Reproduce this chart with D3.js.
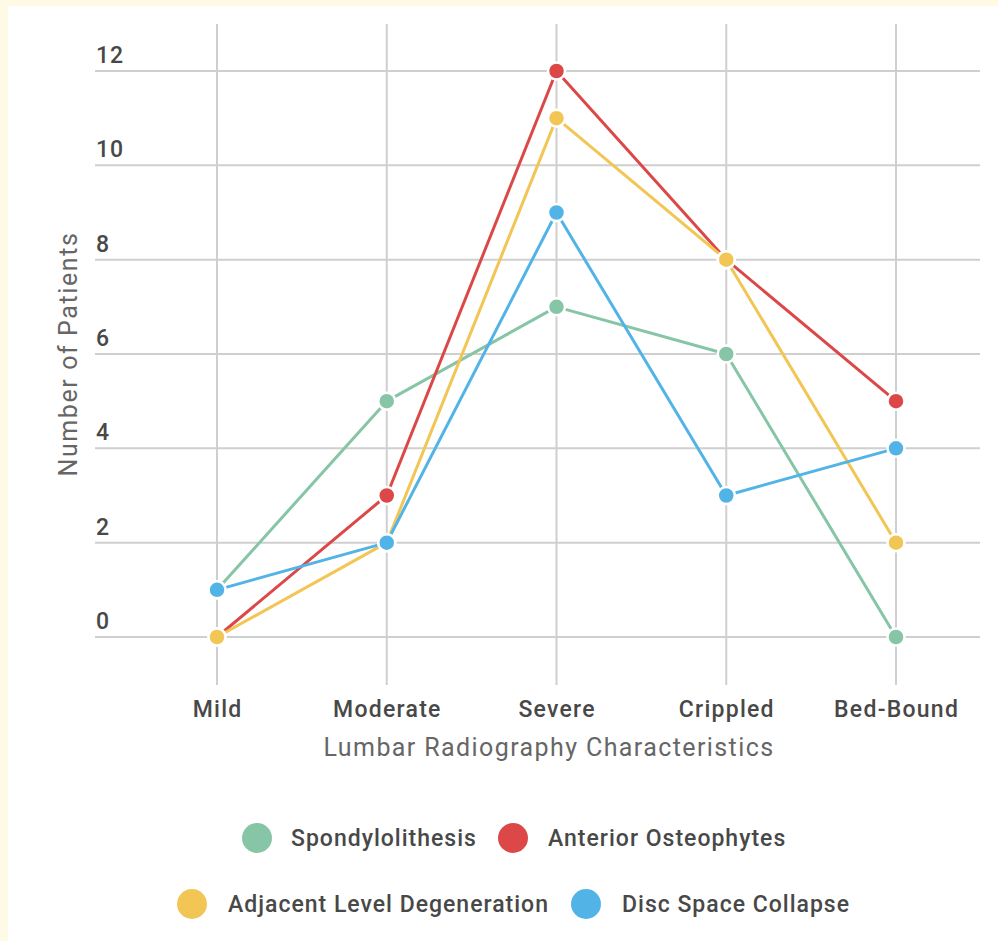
<!DOCTYPE html>
<html>
<head>
<meta charset="utf-8">
<script src="https://cdn.jsdelivr.net/npm/d3@7"></script>
<style>
  html, body { margin: 0; padding: 0; background: #fff; }
  svg { display: block; }
  text { font-family: Roboto, "Noto Sans", sans-serif; }
</style>
</head>
<body>
<svg id="chart" width="998" height="941"></svg>
<script>
const categories = ["Mild", "Moderate", "Severe", "Crippled", "Bed-Bound"];
const seriesNames = ["Spondylolithesis", "Anterior Osteophytes", "Adjacent Level Degeneration", "Disc Space Collapse"];
const spondylolithesis = [1, 5, 7, 6, 0];
const anteriorOsteophytes = [0, 3, 12, 8, 5];
const adjacentLevelDegeneration = [0, 2, 11, 8, 2];
const discSpaceCollapse = [1, 2, 9, 3, 4];
const yTicks = [0, 2, 4, 6, 8, 10, 12];
const colors = ["#86C5A5", "#DC4848", "#F2C655", "#52B4E6"];
const xTitle = "Lumbar Radiography Characteristics";
const yTitle = "Number of Patients";

const seriesValues = [spondylolithesis, anteriorOsteophytes, adjacentLevelDegeneration, discSpaceCollapse];
const series = seriesNames.map((n, i) => ({ name: n, values: seriesValues[i], color: colors[i] }));

const svg = d3.select("#chart");
// cream frame
svg.append("rect").attr("x", 0).attr("y", 0).attr("width", 998).attr("height", 941).attr("fill", "#FFFAE5");
svg.append("rect").attr("x", 8).attr("y", 6).attr("width", 990).attr("height", 935).attr("fill", "#fff");

const x = d3.scalePoint().domain(categories).range([217, 896]);
const y = d3.scaleLinear().domain([0, 12]).range([637, 71]);

const grid = svg.append("g");
grid.selectAll("line.h").data(yTicks).enter().append("line")
  .attr("x1", 95).attr("x2", 980)
  .attr("y1", d => y(d)).attr("y2", d => y(d))
  .attr("stroke", "#cfcfcf").attr("stroke-width", 2);
grid.selectAll("line.v").data(categories).enter().append("line")
  .attr("x1", d => x(d)).attr("x2", d => x(d))
  .attr("y1", 24).attr("y2", 685)
  .attr("stroke", "#cfcfcf").attr("stroke-width", 2);

// y tick labels
svg.append("g").selectAll("text").data(yTicks).enter().append("text")
  .attr("x", 96).attr("y", d => y(d) - 8)
  .attr("font-size", 23).attr("font-weight", 500).attr("fill", "#484848")
  .attr("letter-spacing", 1)
  .text(d => d);

// x tick labels
svg.append("g").selectAll("text").data(categories).enter().append("text")
  .attr("x", d => x(d) + 0.6).attr("y", 717)
  .attr("text-anchor", "middle")
  .attr("font-size", 23).attr("font-weight", 500).attr("fill", "#484848")
  .attr("letter-spacing", 1.25)
  .text(d => d);

// axis titles
svg.append("text").attr("x", 549).attr("y", 756).attr("text-anchor", "middle")
  .attr("font-size", 25).attr("fill", "#666").attr("letter-spacing", 1.4).text(xTitle);
svg.append("text").attr("transform", "translate(77,354) rotate(-90)").attr("text-anchor", "middle")
  .attr("font-size", 25).attr("fill", "#666").attr("letter-spacing", 1.6).text(yTitle);

// lines and points
const line = d3.line().x((d, i) => x(categories[i])).y(d => y(d));
const plot = svg.append("g");
series.forEach(s => {
  plot.append("path").datum(s.values)
    .attr("d", line).attr("fill", "none")
    .attr("stroke", s.color).attr("stroke-width", 3).attr("stroke-linejoin", "round");
});
series.forEach(s => {
  plot.append("g").selectAll("circle").data(s.values).enter().append("circle")
    .attr("cx", (d, i) => x(categories[i])).attr("cy", d => y(d))
    .attr("r", 8.5).attr("fill", s.color)
    .attr("stroke", "#fff").attr("stroke-width", 2.5);
});

// legend
const legendPos = [
  { cx: 257, tx: 291, y: 838 },
  { cx: 513, tx: 548, y: 838 },
  { cx: 192, tx: 228, y: 904 },
  { cx: 586, tx: 622, y: 904 }
];
const legend = svg.append("g");
series.forEach((s, i) => {
  const p = legendPos[i];
  legend.append("circle").attr("cx", p.cx).attr("cy", p.y).attr("r", 15).attr("fill", s.color);
  legend.append("text").attr("x", p.tx).attr("y", p.y + 8)
    .attr("font-size", 23).attr("font-weight", 500).attr("fill", "#484848")
    .attr("letter-spacing", 1)
    .text(s.name);
});
</script>
</body>
</html>
